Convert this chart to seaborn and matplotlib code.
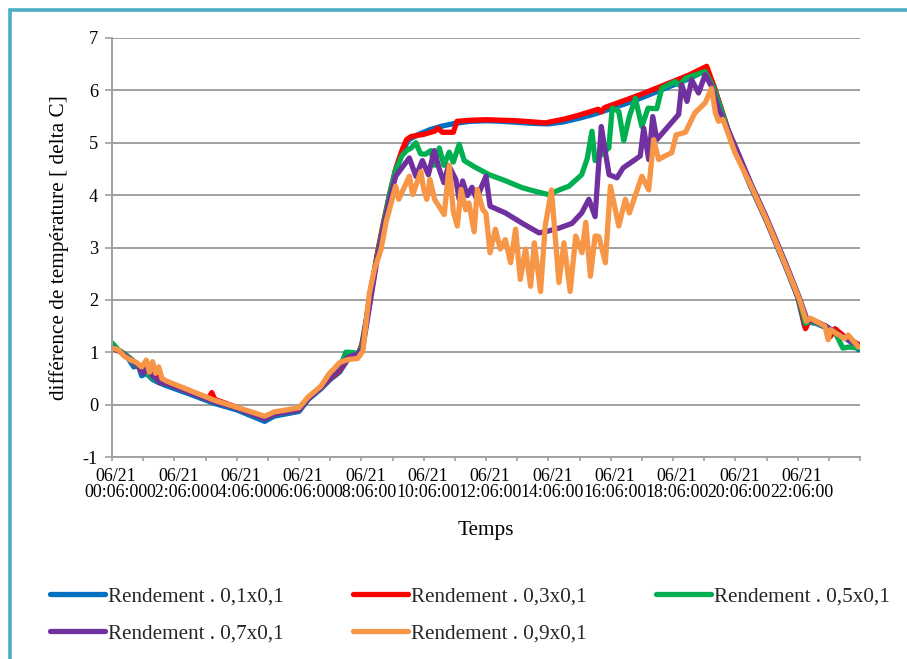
import numpy as np
import pandas as pd
import matplotlib
matplotlib.use("Agg")
import matplotlib.pyplot as plt
import matplotlib.transforms as mtransforms
from matplotlib.patches import Rectangle
from matplotlib.ticker import MultipleLocator, FixedLocator
import seaborn as sns

# ---------------------------------------------------------------------------
# Data (hours since 06/21 00:06:00, delta C)
# ---------------------------------------------------------------------------

hours_01 = [0.0, 0.25, 0.5, 0.7, 0.85, 0.95, 1.1, 1.3, 1.5, 1.75, 2.5, 3.3, 4.0, 4.9, 5.2,
            6.0, 6.3, 6.7, 7.0, 7.3, 7.55, 7.9, 8.0, 8.15, 8.3, 8.5, 8.7, 8.9, 9.1, 9.3,
            9.5, 9.8, 10.2, 10.6, 11.0, 11.5, 12.0, 12.5, 13.0, 13.5, 14.0, 14.5, 15.0,
            15.5, 16.0, 16.5, 17.0, 17.5, 18.0, 18.5, 19.05, 19.3, 19.9, 20.5, 21.0, 21.6,
            22.0, 22.22, 22.35, 22.6, 22.9, 23.2, 23.5, 23.7, 23.95]
temp_01 = [1.12, 1.02, 0.9, 0.72, 0.75, 0.55, 0.6, 0.48, 0.42, 0.36, 0.2, 0.02, -0.1, -0.32, -0.22,
           -0.13, 0.1, 0.3, 0.48, 0.62, 0.85, 0.95, 1.1, 1.6, 2.2, 2.8, 3.4, 3.95, 4.45, 4.8,
           5.05, 5.15, 5.25, 5.32, 5.37, 5.41, 5.42, 5.41, 5.39, 5.37, 5.36, 5.4, 5.47,
           5.55, 5.65, 5.75, 5.86, 5.98, 6.1, 6.22, 6.38, 6.1, 5.0, 4.15, 3.5, 2.65,
           2.05, 1.5, 1.58, 1.55, 1.47, 1.38, 1.28, 1.2, 1.05]

hours_03 = [0.0, 0.3, 0.5, 0.65, 0.9, 1.05, 1.25, 1.4, 1.55, 1.75, 2.5, 3.1, 3.2, 3.3, 4.0,
            4.9, 5.2, 6.0, 6.3, 6.7, 7.0, 7.3, 7.55, 7.9, 8.05, 8.2, 8.35, 8.5, 8.7, 8.9,
            9.1, 9.3, 9.45, 9.6, 10.0, 10.35, 10.45, 10.6, 10.95, 11.07, 11.5, 12.0, 13.0,
            13.9, 14.5, 15.0, 15.6, 15.7, 15.8, 16.5, 17.0, 17.5, 18.0, 18.5, 19.08, 19.3,
            19.9, 20.5, 21.0, 21.6, 22.05, 22.25, 22.4, 22.9, 23.05, 23.2, 23.5, 23.95]
temp_03 = [1.08, 1.0, 0.92, 0.85, 0.68, 0.75, 0.55, 0.68, 0.42, 0.42, 0.25, 0.12, 0.23, 0.1, -0.05,
           -0.27, -0.18, -0.1, 0.12, 0.32, 0.5, 0.65, 0.88, 0.97, 1.2, 1.75, 2.3, 2.85, 3.45, 4.0,
           4.5, 4.85, 5.06, 5.12, 5.16, 5.22, 5.28, 5.2, 5.2, 5.41, 5.43, 5.44, 5.42,
           5.38, 5.45, 5.53, 5.64, 5.59, 5.67, 5.82, 5.93, 6.05, 6.17, 6.29, 6.46, 6.1,
           5.0, 4.18, 3.52, 2.68, 2.0, 1.45, 1.64, 1.5, 1.3, 1.45, 1.3, 1.15]

hours_05 = [0.0, 0.2, 0.45, 0.7, 0.9, 1.1, 1.3, 1.5, 1.75, 2.5, 3.3, 4.0, 4.9, 5.2, 6.0,
            6.3, 6.7, 7.0, 7.3, 7.5, 7.62, 7.9, 8.05, 8.2, 8.35, 8.5, 8.7, 8.9, 9.1, 9.3,
            9.45, 9.6, 9.75, 9.9, 10.05, 10.23, 10.35, 10.5, 10.65, 10.82, 10.95, 11.14,
            11.3, 11.6, 12.1, 12.6, 13.17, 13.6, 14.0, 14.35, 14.66, 15.07, 15.25, 15.4,
            15.5, 15.8, 15.94, 16.05, 16.26, 16.42, 16.6, 16.79, 17.0, 17.2, 17.48, 17.64,
            18.07, 18.2, 18.4, 19.03, 19.3, 19.9, 20.5, 21.0, 21.6, 22.05, 22.25, 22.4,
            22.9, 23.2, 23.45, 23.65, 23.95]
temp_05 = [1.18, 1.05, 0.95, 0.82, 0.7, 0.62, 0.5, 0.45, 0.4, 0.23, 0.05, -0.07, -0.27, -0.18, -0.1,
           0.12, 0.32, 0.52, 0.68, 1.0, 1.0, 0.98, 1.15, 1.7, 2.25, 2.8, 3.4, 4.0, 4.48, 4.75,
           4.85, 4.9, 5.0, 4.79, 4.78, 4.85, 4.57, 4.9, 4.57, 4.82, 4.63, 4.97,
           4.66, 4.55, 4.39, 4.28, 4.14, 4.07, 4.01, 4.1, 4.17, 4.39, 4.7, 5.22,
           4.66, 4.83, 4.9, 5.66, 5.6, 5.04, 5.5, 5.85, 5.31, 5.66, 5.65, 6.04,
           6.17, 6.1, 6.23, 6.36, 6.05, 5.0, 4.2, 3.55, 2.7, 2.02, 1.55, 1.6,
           1.5, 1.38, 1.08, 1.1, 1.08]

hours_07 = [0.0, 0.3, 0.6, 0.85, 1.0, 1.15, 1.3, 1.5, 1.75, 2.5, 3.3, 4.0, 4.9, 5.2, 6.0,
            6.3, 6.7, 7.0, 7.3, 7.55, 7.9, 8.05, 8.2, 8.35, 8.5, 8.7, 8.9, 9.1, 9.3, 9.54,
            9.75, 9.96, 10.15, 10.34, 10.5, 10.65, 10.8, 11.03, 11.14, 11.25, 11.4, 11.55,
            11.7, 11.85, 12.0, 12.13, 12.62, 13.2, 13.7, 13.9, 14.34, 14.76, 15.07, 15.3,
            15.5, 15.7, 15.8, 15.95, 16.2, 16.4, 16.79, 16.95, 17.06, 17.22, 17.35, 17.48,
            18.18, 18.28, 18.45, 18.6, 18.82, 19.03, 19.24, 19.45, 19.95, 20.5, 21.0, 21.6,
            22.05, 22.3, 22.5, 22.9, 23.2, 23.5, 23.95]
temp_07 = [1.1, 1.0, 0.85, 0.75, 0.6, 0.7, 0.55, 0.45, 0.4, 0.23, 0.05, -0.07, -0.27, -0.18, -0.1,
           0.12, 0.32, 0.52, 0.68, 0.9, 0.97, 1.1, 1.65, 2.2, 2.75, 3.35, 3.9, 4.36, 4.52, 4.71,
           4.36, 4.66, 4.39, 4.85, 4.5, 4.24, 4.57, 4.3, 3.92, 4.27, 3.99, 4.15,
           3.92, 4.15, 4.36, 3.79, 3.66, 3.45, 3.28, 3.3, 3.37, 3.46, 3.66, 3.92,
           3.59, 5.31, 4.93, 4.39, 4.33, 4.52, 4.68, 4.75, 5.28, 4.68, 5.5, 5.06,
           5.54, 6.11, 5.79, 6.2, 5.95, 6.3, 6.07, 5.66, 5.0, 4.22, 3.57, 2.72,
           2.05, 1.62, 1.6, 1.5, 1.38, 1.28, 1.12]

hours_09 = [0.0, 0.2, 0.4, 0.6, 0.8, 0.95, 1.1, 1.2, 1.3, 1.4, 1.5, 1.6, 1.75, 2.5, 3.3,
            4.0, 4.9, 5.2, 6.0, 6.3, 6.7, 6.98, 7.1, 7.3, 7.56, 7.88, 8.05, 8.15, 8.26, 8.42,
            8.63, 8.8, 8.9, 9.1, 9.2, 9.54, 9.65, 9.91, 10.0, 10.1, 10.2, 10.35, 10.66,
            10.82, 10.95, 11.08, 11.2, 11.35, 11.45, 11.62, 11.72, 11.9, 12.0, 12.13, 12.3,
            12.46, 12.62, 12.79, 12.95, 13.1, 13.27, 13.43, 13.55, 13.75, 13.9, 14.1, 14.34,
            14.5, 14.7, 14.88, 15.08, 15.2, 15.35, 15.5, 15.62, 15.83, 15.99, 16.26, 16.47,
            16.6, 17.0, 17.22, 17.38, 17.54, 17.75, 17.96, 18.1, 18.4, 18.7, 19.03, 19.24,
            19.36, 19.46, 19.6, 19.99, 20.5, 21.0, 21.6, 22.05, 22.28, 22.4, 22.87, 22.98,
            23.05, 23.4, 23.5, 23.62, 23.95]
temp_09 = [1.08, 1.05, 0.92, 0.85, 0.8, 0.72, 0.85, 0.62, 0.82, 0.6, 0.72, 0.5, 0.45, 0.27, 0.08,
           -0.05, -0.22, -0.14, -0.06, 0.15, 0.35, 0.6, 0.67, 0.8, 0.86, 0.88, 1.02, 1.56, 2.13, 2.58,
           2.96, 3.5, 3.72, 4.17, 3.92, 4.36, 4.01, 4.45, 4.11, 3.92, 4.3, 3.92, 3.63,
           4.57, 3.69, 3.41, 4.11, 3.72, 3.85, 3.3, 4.11, 3.72, 3.65, 2.9, 3.35,
           2.97, 3.15, 2.71, 3.35, 2.39, 2.97, 2.26, 3.09, 2.16, 3.41, 4.1, 2.33,
           3.09, 2.16, 3.22, 2.9, 3.48, 2.45, 3.22, 3.21, 2.71, 4.17, 3.41, 3.92,
           3.66, 4.36, 4.1, 5.06, 4.68, 4.75, 4.81, 5.15, 5.2, 5.57, 5.76, 6.04,
           5.57, 5.41, 5.45, 4.81, 4.18, 3.53, 2.68, 2.02, 1.59, 1.65, 1.5, 1.24,
           1.43, 1.3, 1.26, 1.33, 1.1]

series_labels = ["Rendement . 0,1x0,1", "Rendement . 0,3x0,1", "Rendement . 0,5x0,1",
                 "Rendement . 0,7x0,1", "Rendement . 0,9x0,1"]
series_colors = ["#0070C0", "#FF0000", "#00B050", "#7030A0", "#F79646"]
series_hours = [hours_01, hours_03, hours_05, hours_07, hours_09]
series_temps = [temp_01, temp_03, temp_05, temp_07, temp_09]

tick_hours = list(range(0, 24, 2))
tick_labels = [f"06/21\n{h:02d}:06:00" for h in tick_hours]

# ---------------------------------------------------------------------------
# Plot
# ---------------------------------------------------------------------------

sns.set_theme(style="white")
plt.rcParams["font.family"] = ["Liberation Serif", "DejaVu Serif"]
plt.rcParams["axes.unicode_minus"] = False

W, H = 907, 659
fig = plt.figure(figsize=(W / 100, H / 100), dpi=100)
ax = fig.add_axes([112 / W, 1 - 457 / H, (860 - 112) / W, (457 - 38) / H])

for hrs, tmp, lab, col in zip(series_hours, series_temps, series_labels, series_colors):
    df = pd.DataFrame({"heure": hrs, "delta": tmp})
    sns.lineplot(data=df, x="heure", y="delta", color=col, linewidth=3.8, label=lab,
                 sort=False, estimator=None, ax=ax, solid_joinstyle="round",
                 solid_capstyle="round")

ax.set_xlim(0, 24)
ax.set_ylim(-1, 7)
ax.yaxis.set_major_locator(MultipleLocator(1))
ax.xaxis.set_major_locator(FixedLocator(tick_hours))
ax.xaxis.set_minor_locator(MultipleLocator(1))
ax.set_xticklabels(tick_labels, linespacing=0.95)

grey = "#A0A0A0"
ax.yaxis.grid(True, color=grey, linewidth=1.4)
ax.xaxis.grid(False)
for side in ["top", "right"]:
    ax.spines[side].set_visible(False)
for side in ["left", "bottom"]:
    ax.spines[side].set_color(grey)
    ax.spines[side].set_linewidth(1.4)

ax.tick_params(axis="y", which="major", direction="out", length=5, width=1.2,
               color=grey, labelsize=13.2, pad=5, labelcolor="black", left=True)
ax.tick_params(axis="x", which="both", direction="out", length=3, width=1.2,
               color=grey, labelsize=12.9, pad=5, labelcolor="black", bottom=True)

# Excel draws the date labels a few pixels right of their tick
shift = mtransforms.ScaledTranslation(4 / 100, 0, fig.dpi_scale_trans)
for lbl in ax.get_xticklabels():
    lbl.set_transform(lbl.get_transform() + shift)

ax.set_xlabel("Temps", fontsize=15.3, color="black")
ax.set_ylabel("différence de température [ delta C]", fontsize=15.3, color="black")
ax.xaxis.set_label_coords(0.5, -0.152)
ax.yaxis.set_label_coords(-0.057, 0.5)

# legend below, row-wise order with 3 columns
handles, labels = ax.get_legend_handles_labels()
ax.get_legend().remove()
order = [0, 3, 1, 4, 2]
leg = fig.legend([handles[i] for i in order], [labels[i] for i in order], ncol=3,
                 loc="upper left", bbox_to_anchor=(50 / W, 1 - 587 / H), frameon=False,
                 fontsize=15.2, handlelength=2.6, handletextpad=0.15, columnspacing=3.27,
                 labelspacing=0.8, borderpad=0, borderaxespad=0)
for line in leg.get_lines():
    line.set_linewidth(3.8)
    line.set_solid_capstyle("round")

# teal frame around the chart
fig.add_artist(Rectangle((10 / W, -0.05), 1.2, 1 - 10 / H + 0.05, transform=fig.transFigure,
                         fill=False, edgecolor="#4BACC6", linewidth=2.6, clip_on=False))

fig.savefig("out.png", dpi=100)
